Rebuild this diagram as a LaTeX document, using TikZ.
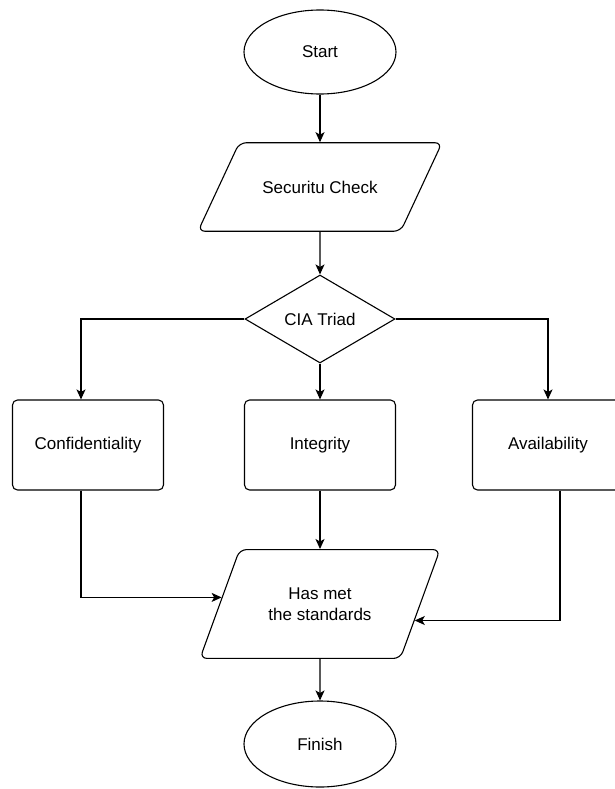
\documentclass[tikz,border=0pt]{standalone}
\usepackage{fontspec}
\setmainfont{Liberation Sans}
\usetikzlibrary{shapes.geometric,arrows.meta,calc}
\tikzset{
  base/.style={draw, line width=1.1pt, font=\fontsize{17}{21}\selectfont, align=center, inner sep=0pt},
  term/.style={base, ellipse, minimum width=152pt, minimum height=84pt},
  io/.style={base, trapezium, trapezium stretches body, rounded corners=7pt, inner ysep=38pt},
  decide/.style={base, diamond, minimum width=150pt, minimum height=88pt},
  proc/.style={base, rectangle, rounded corners=5pt, minimum width=151pt, minimum height=90pt},
  flow/.style={line width=1.1pt, -{Stealth[length=10pt,width=9pt,inset=2.5pt]}}
}
\begin{document}
\begin{tikzpicture}[x=1pt,y=-1pt]
    \useasboundingbox (0,0) rectangle (614,789);
    % Nodes
    \node[term] (start) at (320,52) {Start};
    \node[io, trapezium left angle=65, trapezium right angle=115,
          minimum width=244pt] (check) at (320,187) {Securitu Check};
    \node[decide] (triad) at (320,319) {CIA Triad};
    \node[proc] (conf) at (88,445) {Confidentiality};
    \node[proc] (integ) at (320,445) {Integrity};
    \node[proc] (avail) at (548,445) {Availability};
    \node[io, trapezium left angle=70, trapezium right angle=110,
          minimum width=240pt] (meets) at (320,604) {Has met\\the standards};
    \node[term, minimum height=86pt] (finish) at (320,744) {Finish};
    % Connectors
    \draw[flow] (start) -- (check);
    \draw[flow] (check) -- (triad);
    \draw[flow] (triad.west) -| ([xshift=-7pt]conf.north);
    \draw[flow] (triad) -- (integ);
    \draw[flow] (triad.east) -| (avail.north);
    \draw[flow] (integ) -- (meets);
    \draw[flow] ([xshift=-7pt]conf.south) |- ($(meets.bottom left corner)!0.56!(meets.top left corner)$);
    \draw[flow] ([xshift=12pt]avail.south) |- ($(meets.bottom right corner)!0.35!(meets.top right corner)$);
    \draw[flow] (meets) -- (finish);
\end{tikzpicture}
\end{document}
